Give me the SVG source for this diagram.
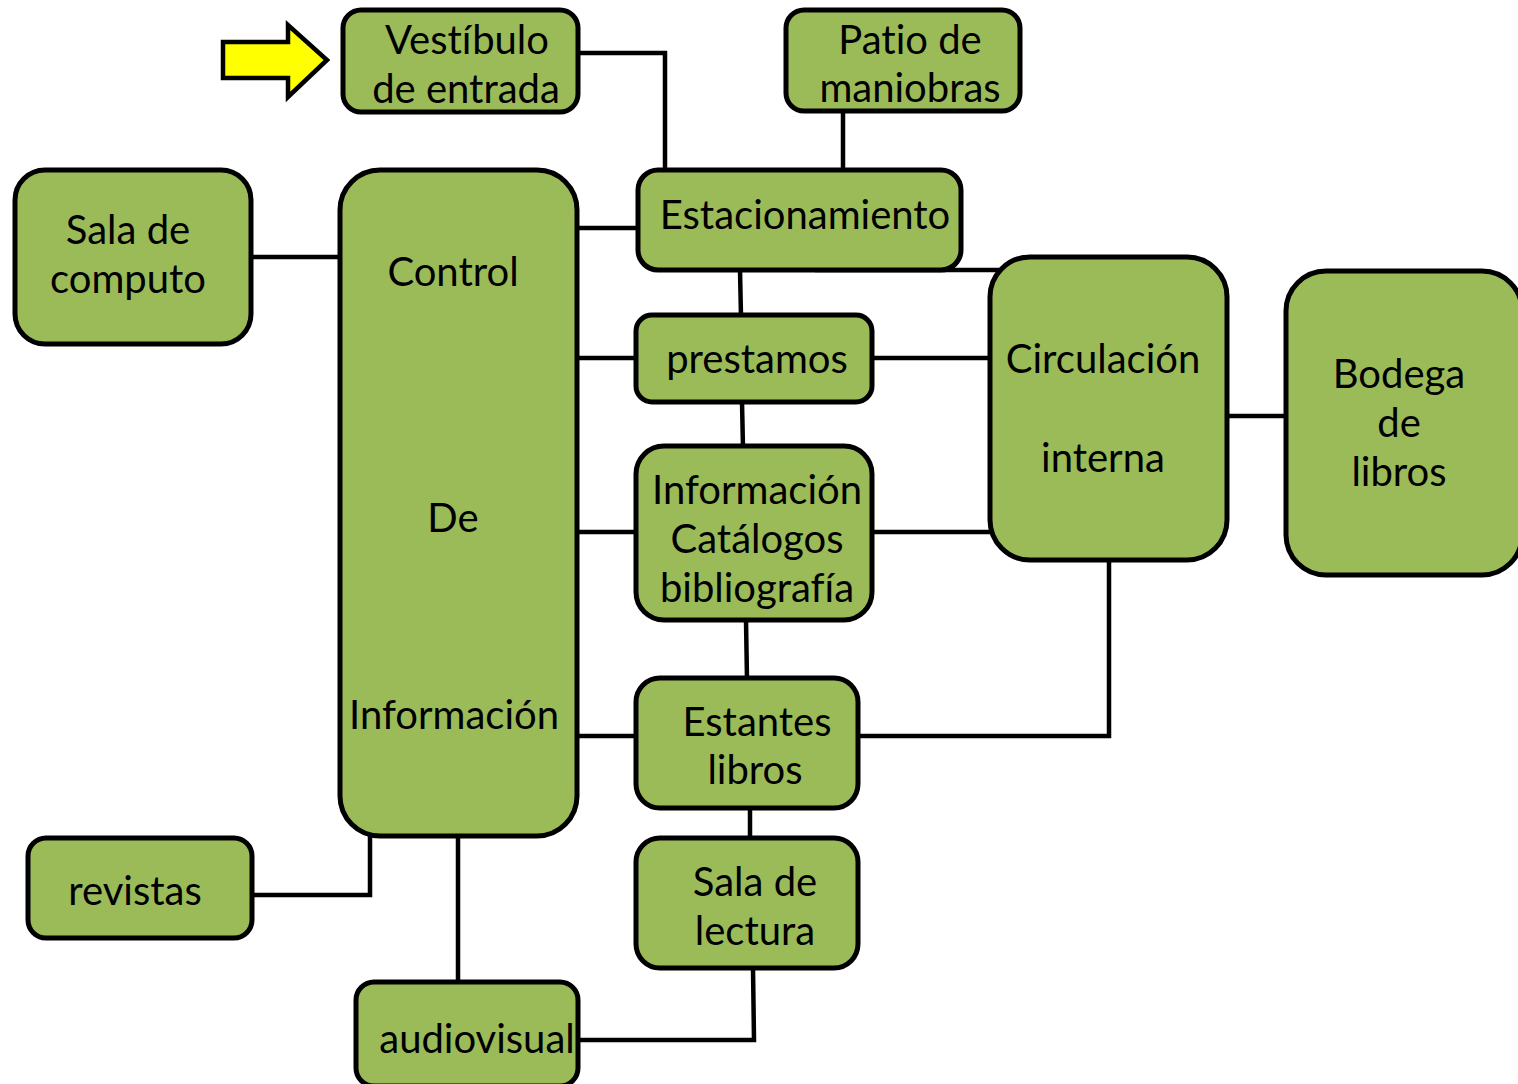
<svg xmlns="http://www.w3.org/2000/svg" width="1518" height="1084" viewBox="0 0 1518 1084">
<style>
.n{fill:#9BBB59;stroke:#000;stroke-width:5}
.t{font-family:Lato,"Liberation Sans",sans-serif;font-size:40px;fill:#000;text-anchor:middle;font-variant-ligatures:none;font-feature-settings:"liga" 0}
.c{fill:none;stroke:#000;stroke-width:4.5}
</style>
<rect width="1518" height="1084" fill="#fff"/>
<g id="connectors">
<polyline class="c" points="578,53 665,53 665,172"/>
<line class="c" x1="843" y1="111" x2="843" y2="172"/>
<line class="c" x1="251" y1="257" x2="342" y2="257"/>
<line class="c" x1="577" y1="228" x2="640" y2="228"/>
<line class="c" x1="815" y1="270" x2="1000" y2="270"/>
<line class="c" x1="740" y1="270" x2="741" y2="317"/>
<line class="c" x1="577" y1="358" x2="638" y2="358"/>
<line class="c" x1="872" y1="358" x2="992" y2="358"/>
<line class="c" x1="742" y1="402" x2="743" y2="448"/>
<line class="c" x1="577" y1="532" x2="638" y2="532"/>
<line class="c" x1="872" y1="532" x2="992" y2="532"/>
<line class="c" x1="1227" y1="416" x2="1288" y2="416"/>
<line class="c" x1="746" y1="620" x2="747" y2="680"/>
<line class="c" x1="577" y1="736" x2="638" y2="736"/>
<polyline class="c" points="858,736 1109,736 1109,560"/>
<line class="c" x1="750" y1="808" x2="750" y2="840"/>
<polyline class="c" points="753,968 754,1040 578,1040"/>
<line class="c" x1="458" y1="836" x2="458" y2="984"/>
<polyline class="c" points="370,836 370,895 252,895"/>
</g>
<g id="arrow">
<polygon points="223,42 288,42 288,25 327,60 288,97 288,78 223,78" fill="#FFFF00" stroke="#000" stroke-width="4.5" stroke-linejoin="miter"/>
</g>
<g id="vestibulo">
<rect class="n" x="343" y="10" width="235" height="102" rx="18"/>
<text class="t" x="467" y="54">Vestíbulo</text>
<text class="t" x="466" y="103">de entrada</text>
</g>
<g id="patio">
<rect class="n" x="786" y="10" width="234" height="101" rx="18"/>
<text class="t" x="910" y="54">Patio de</text>
<text class="t" x="910" y="102">maniobras</text>
</g>
<g id="sala-computo">
<rect class="n" x="15" y="170" width="236" height="174" rx="30"/>
<text class="t" x="128" y="244">Sala de</text>
<text class="t" x="128" y="293">computo</text>
</g>
<g id="control">
<rect class="n" x="340" y="170" width="237" height="666" rx="40"/>
<text class="t" x="453" y="286">Control</text>
<text class="t" x="453" y="532">De</text>
<text class="t" x="454" y="729">Información</text>
</g>
<g id="estacionamiento">
<rect class="n" x="638" y="170" width="323" height="100" rx="20"/>
<text class="t" x="805" y="229">Estacionamiento</text>
</g>
<g id="prestamos">
<rect class="n" x="636" y="315" width="236" height="87" rx="16"/>
<text class="t" x="757" y="373">prestamos</text>
</g>
<g id="informacion-catalogos">
<rect class="n" x="636" y="446" width="236" height="174" rx="28"/>
<text class="t" x="757" y="504">Información</text>
<text class="t" x="757" y="553">Catálogos</text>
<text class="t" x="757" y="602">bibliografía</text>
</g>
<g id="estantes">
<rect class="n" x="636" y="678" width="222" height="130" rx="24"/>
<text class="t" x="757" y="736">Estantes</text>
<text class="t" x="755" y="784">libros</text>
</g>
<g id="sala-lectura">
<rect class="n" x="636" y="838" width="222" height="130" rx="24"/>
<text class="t" x="755" y="896">Sala de</text>
<text class="t" x="755" y="945">lectura</text>
</g>
<g id="circulacion">
<rect class="n" x="990" y="257" width="237" height="303" rx="40"/>
<text class="t" x="1103" y="373">Circulación</text>
<text class="t" x="1103" y="472">interna</text>
</g>
<g id="bodega">
<rect class="n" x="1286" y="271" width="236" height="304" rx="40"/>
<text class="t" x="1399" y="388">Bodega</text>
<text class="t" x="1399" y="437">de</text>
<text class="t" x="1399" y="486">libros</text>
</g>
<g id="revistas">
<rect class="n" x="28" y="838" width="224" height="100" rx="18"/>
<text class="t" x="135" y="905">revistas</text>
</g>
<g id="audiovisual">
<rect class="n" x="356" y="982" width="222" height="104" rx="18"/>
<text class="t" x="477" y="1053">audiovisual</text>
</g>
</svg>
